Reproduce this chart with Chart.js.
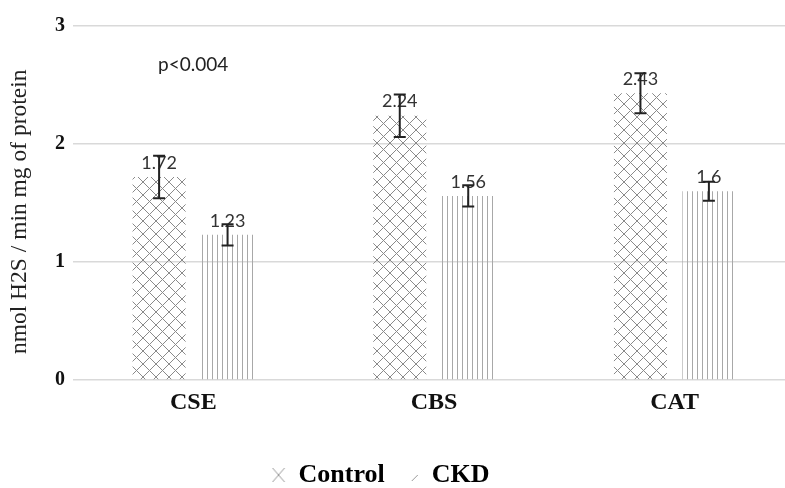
<!DOCTYPE html>
<html>
<head>
<meta charset="utf-8">
<script src="https://cdn.jsdelivr.net/npm/chart.js@4/dist/chart.umd.min.js"></script>
<style>
  html, body { margin: 0; padding: 0; background: #fff; }
  #wrap { width: 785px; height: 488px; }
</style>
</head>
<body>
<div id="wrap"><canvas id="chart"></canvas></div>
<script>
const categories = ['CSE', 'CBS', 'CAT'];
const controlValues = [1.72, 2.24, 2.43];
const ckdValues = [1.23, 1.56, 1.6];
const controlErrors = [0.18, 0.18, 0.17];
const ckdErrors = [0.09, 0.09, 0.08];
const yTicks = [0, 1, 2, 3];
const note = 'p<0.004';

function crossPattern(size) {
  const c = document.createElement('canvas');
  c.width = size; c.height = size;
  const g = c.getContext('2d');
  g.strokeStyle = '#8a8a8a';
  g.lineWidth = 1;
  g.beginPath();
  g.moveTo(0, 0); g.lineTo(size, size);
  g.moveTo(size, 0); g.lineTo(0, size);
  g.stroke();
  return c;
}

function linePattern(w, h) {
  const c = document.createElement('canvas');
  c.width = w; c.height = h;
  const g = c.getContext('2d');
  g.strokeStyle = '#a8a8a8';
  g.lineWidth = 1;
  g.beginPath();
  g.moveTo(2.5, 0); g.lineTo(2.5, h);
  g.stroke();
  return c;
}

function legendIcon(kind) {
  const c = document.createElement('canvas');
  c.width = 14; c.height = 16;
  const g = c.getContext('2d');
  g.strokeStyle = '#999';
  g.lineWidth = 1;
  g.beginPath();
  if (kind === 'cross') {
    g.moveTo(1, 1); g.lineTo(13, 15);
    g.moveTo(13, 1); g.lineTo(1, 15);
  } else {
    g.moveTo(7, 14); g.lineTo(13, 8);
  }
  g.stroke();
  return c;
}

const ctx = document.getElementById('chart').getContext('2d');
const crossFill = ctx.createPattern(crossPattern(13), 'repeat');
const lineFill = ctx.createPattern(linePattern(5, 10), 'repeat');
const icons = [legendIcon('cross'), legendIcon('line')];

// the category axis in the original runs a little past the right edge
const widenX = {
  id: 'widenX',
  afterLayout(chart) {
    const x = chart.scales.x;
    x.right = 795;
    x.width = x.right - x.left;
    x.configure();
  }
};

const errorBars = {
  id: 'errorBars',
  afterDatasetsDraw(chart) {
    const g = chart.ctx;
    const y = chart.scales.y;
    const errs = [controlErrors, ckdErrors];
    chart.data.datasets.forEach((ds, i) => {
      const meta = chart.getDatasetMeta(i);
      meta.data.forEach((bar, j) => {
        const v = ds.data[j];
        // value label
        g.save();
        g.font = '18px Lato, "DejaVu Sans", sans-serif';
        g.fillStyle = '#333';
        g.textAlign = 'center';
        g.textBaseline = 'middle';
        g.fillText(String(v), bar.x, bar.y - 14);
        g.restore();
        // error bar
        const top = y.getPixelForValue(v + errs[i][j]);
        const bot = y.getPixelForValue(v - errs[i][j]);
        g.save();
        g.strokeStyle = '#222';
        g.lineWidth = 2;
        g.beginPath();
        g.moveTo(bar.x, top); g.lineTo(bar.x, bot);
        g.moveTo(bar.x - 6, top); g.lineTo(bar.x + 6, top);
        g.moveTo(bar.x - 6, bot); g.lineTo(bar.x + 6, bot);
        g.stroke();
        g.restore();
      });
    });
    g.save();
    g.font = '19px Lato, "DejaVu Sans", sans-serif';
    g.fillStyle = '#222';
    g.textBaseline = 'middle';
    g.fillText(note, 158, 65);
    g.restore();
  }
};

new Chart(ctx, {
  type: 'bar',
  data: {
    labels: categories,
    datasets: [
      { label: 'Control', data: controlValues, backgroundColor: crossFill },
      { label: 'CKD', data: ckdValues, backgroundColor: lineFill }
    ]
  },
  options: {
    responsive: true,
    maintainAspectRatio: false,
    animation: false,
    layout: { autoPadding: false, padding: { top: 26, right: 0, left: 2, bottom: -10 } },
    datasets: { bar: { categoryPercentage: 0.569, barPercentage: 0.774 } },
    plugins: {
      tooltip: { enabled: false },
      legend: {
        position: 'bottom',
        labels: {
          usePointStyle: true,
          pointStyleWidth: 14,
          padding: 20,
          color: '#111',
          font: { family: '"Liberation Serif", serif', size: 26, weight: 'bold' },
          generateLabels(chart) {
            return chart.data.datasets.map((ds, i) => ({
              text: i === 1 ? ds.label + '\u00a0\u00a0\u00a0\u00a0' : ds.label,
              pointStyle: icons[i],
              datasetIndex: i,
              hidden: false
            }));
          }
        }
      }
    },
    scales: {
      x: {
        grid: { display: false, drawTicks: false },
        border: { display: false },
        ticks: {
          color: '#111',
          padding: 8,
          font: { family: '"Liberation Serif", serif', size: 24, weight: 'bold' }
        },
        afterFit(scale) { scale.height = 62; }
      },
      y: {
        min: 0,
        max: 3,
        afterBuildTicks(scale) { scale.ticks = yTicks.map(v => ({ value: v })); },
        grid: { color: '#d9d9d9', lineWidth: 1.5, drawTicks: false },
        border: { display: false },
        ticks: {
          color: '#111',
          padding: 8,
          font: { family: '"Liberation Serif", serif', size: 20, weight: 'bold' }
        },
        title: {
          display: true,
          text: 'nmol H2S / min mg of protein\u00a0\u00a0\u00a0',
          color: '#222',
          padding: { top: 4, bottom: 4 },
          font: { family: '"Liberation Serif", serif', size: 23.5 }
        },
        afterFit(scale) { scale.width = 71; }
      }
    }
  },
  plugins: [widenX, errorBars]
});
</script>
</body>
</html>
